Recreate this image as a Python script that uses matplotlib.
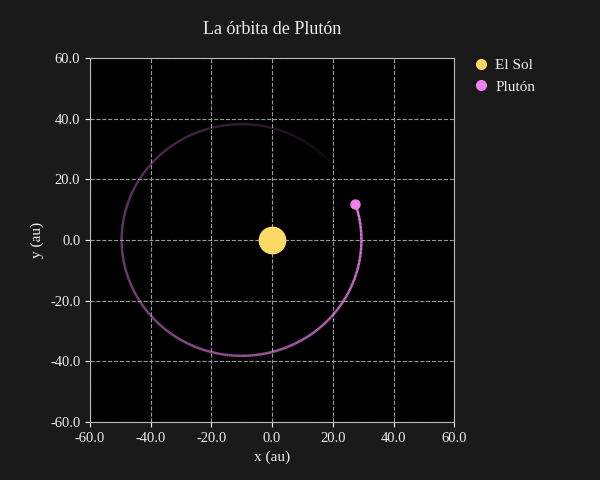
import matplotlib
matplotlib.use("Agg")
import matplotlib.pyplot as plt
import numpy as np
from matplotlib.collections import LineCollection

plt.rcParams['font.family'] = ['Liberation Serif', 'DejaVu Serif']
plt.rcParams['font.size'] = 11

# orbit of Pluto (au)
semi_major = 39.5
eccentricity = 0.255
pluto_angle_deg = 23.4      # where Pluto is now, seen from the Sun
trail_span_deg = 352.0      # how much of the past orbit is drawn

sun_xy = (0.0, 0.0)
tick_values = [-60, -40, -20, 0, 20, 40, 60]

bg = '#1a1a1a'
sun_color = '#ffd966'
pluto_color = '#ee82ee'
text_color = '#eeeeee'

fig = plt.figure(figsize=(6, 4.8), dpi=100, facecolor=bg)
ax = fig.add_axes([0.15, 0.121, 0.607, 0.758])
ax.set_facecolor('black')

# trail: angles from oldest to now, alpha grows towards Pluto
theta = np.radians(np.linspace(pluto_angle_deg - trail_span_deg, pluto_angle_deg, 400))
r = semi_major * (1 - eccentricity**2) / (1 + eccentricity * np.cos(theta))
x = r * np.cos(theta)
y = r * np.sin(theta)
pts = np.column_stack([x, y]).reshape(-1, 1, 2)
segs = np.concatenate([pts[:-1], pts[1:]], axis=1)
rgba = np.zeros((len(segs), 4))
rgba[:, :3] = matplotlib.colors.to_rgb(pluto_color)
rgba[:, 3] = np.linspace(0, 1, len(segs))
ax.add_collection(LineCollection(segs, colors=rgba, linewidths=1.8, zorder=2))

ax.plot(*sun_xy, 'o', color=sun_color, markersize=19, zorder=3, label='El Sol')
ax.plot(x[-1], y[-1], 'o', color=pluto_color, markersize=6.5, zorder=4, label='Plutón')

ax.set_xlim(-60, 60)
ax.set_ylim(-60, 60)
ax.set_xticks(tick_values)
ax.set_yticks(tick_values)
ax.xaxis.set_major_formatter(matplotlib.ticker.FormatStrFormatter('%.1f'))
ax.yaxis.set_major_formatter(matplotlib.ticker.FormatStrFormatter('%.1f'))
ax.grid(True, color='#999999', linestyle='--', linewidth=0.8, zorder=0)
ax.set_axisbelow(True)
ax.tick_params(colors=text_color, labelsize=10.5)
for s in ax.spines.values():
    s.set_color('#bbbbbb')

ax.set_xlabel('x (au)', color=text_color, fontsize=11)
ax.set_ylabel('y (au)', color=text_color, fontsize=11)
ax.set_title('La órbita de Plutón', color=text_color, fontsize=13, pad=17)

leg = ax.legend(loc='upper left', bbox_to_anchor=(1.016, 1.036), frameon=False,
                fontsize=11, handlelength=1.0, handletextpad=0.4, labelspacing=0.5)
for h in leg.legend_handles:
    h.set_markersize(7)
for t in leg.get_texts():
    t.set_color(text_color)

fig.savefig('out.png', facecolor=bg)
